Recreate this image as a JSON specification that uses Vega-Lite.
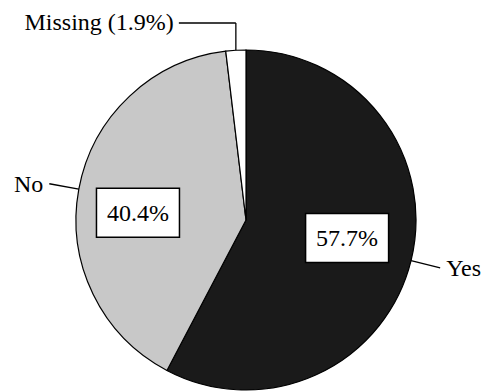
{
  "$schema": "https://vega.github.io/schema/vega-lite/v6.json",
  "width": 340,
  "height": 340,
  "autosize": {"type": "none"},
  "padding": {"left": 76, "top": 50, "right": 66, "bottom": 1},
  "background": "white",
  "config": {
    "view": {"stroke": null},
    "text": {"font": "Liberation Serif", "fontSize": 24, "color": "black"},
    "rule": {"color": "black", "strokeWidth": 1.3}
  },
  "data": {
    "values": [
      {"answer": "Yes", "percent": 57.7, "rank": 1},
      {"answer": "No", "percent": 40.4, "rank": 2},
      {"answer": "Missing", "percent": 1.9, "rank": 3}
    ]
  },
  "transform": [
    {"window": [{"op": "sum", "field": "percent", "as": "cum"}], "sort": [{"field": "rank"}], "frame": [null, 0]},
    {"calculate": "2 * PI * (datum.cum - datum.percent / 2) / 100", "as": "a"},
    {"calculate": "170 * sin(datum.a)", "as": "ex"},
    {"calculate": "170 * cos(datum.a)", "as": "ey"},
    {"calculate": "200 * sin(datum.a)", "as": "ox"},
    {"calculate": "200 * cos(datum.a)", "as": "oy"},
    {"calculate": "107 * sin(datum.a) - 2.8", "as": "bx"},
    {"calculate": "60 * cos(datum.a) - 3.7", "as": "by"},
    {"calculate": "format(datum.percent, '.1f') + '%'", "as": "pctLabel"},
    {"calculate": "datum.answer + ' (' + format(datum.percent, '.1f') + '%)'", "as": "topLabel"},
    {"calculate": "197", "as": "topY"},
    {"calculate": "datum.ex - 57", "as": "elbowX"},
    {"calculate": "datum.ex - 62", "as": "topTextX"}
  ],
  "layer": [
    {
      "mark": {"type": "arc", "radius": 170, "stroke": "black", "strokeWidth": 1.2},
      "encoding": {
        "theta": {"field": "percent", "type": "quantitative", "stack": true},
        "order": {"field": "rank", "type": "quantitative"},
        "color": {
          "field": "answer",
          "type": "nominal",
          "scale": {"domain": ["Yes", "No", "Missing"], "range": ["#1a1a1a", "#c8c8c8", "#ffffff"]},
          "legend": null
        }
      }
    },
    {
      "transform": [{"filter": "datum.answer !== 'Missing'"}],
      "mark": {"type": "rule"},
      "encoding": {
        "x": {"field": "ex", "type": "quantitative", "scale": {"domain": [-170, 170], "nice": false, "zero": false}, "axis": null},
        "y": {"field": "ey", "type": "quantitative", "scale": {"domain": [-170, 170], "nice": false, "zero": false}, "axis": null},
        "x2": {"field": "ox"},
        "y2": {"field": "oy"}
      }
    },
    {
      "transform": [{"filter": "datum.answer !== 'Missing' && datum.ox < 0"}],
      "mark": {"type": "text", "align": "right", "baseline": "middle", "dx": -6, "dy": 1},
      "encoding": {
        "x": {"field": "ox", "type": "quantitative", "scale": {"domain": [-170, 170], "nice": false, "zero": false}, "axis": null},
        "y": {"field": "oy", "type": "quantitative", "scale": {"domain": [-170, 170], "nice": false, "zero": false}, "axis": null},
        "text": {"field": "answer"}
      }
    },
    {
      "transform": [{"filter": "datum.answer !== 'Missing' && datum.ox >= 0"}],
      "mark": {"type": "text", "align": "left", "baseline": "middle", "dx": 6, "dy": 1},
      "encoding": {
        "x": {"field": "ox", "type": "quantitative", "scale": {"domain": [-170, 170], "nice": false, "zero": false}, "axis": null},
        "y": {"field": "oy", "type": "quantitative", "scale": {"domain": [-170, 170], "nice": false, "zero": false}, "axis": null},
        "text": {"field": "answer"}
      }
    },
    {
      "transform": [{"filter": "datum.answer === 'Missing'"}],
      "mark": {"type": "rule"},
      "encoding": {
        "x": {"field": "ex", "type": "quantitative", "scale": {"domain": [-170, 170], "nice": false, "zero": false}, "axis": null},
        "y": {"field": "ey", "type": "quantitative", "scale": {"domain": [-170, 170], "nice": false, "zero": false}, "axis": null},
        "y2": {"field": "topY"}
      }
    },
    {
      "transform": [{"filter": "datum.answer === 'Missing'"}],
      "mark": {"type": "rule"},
      "encoding": {
        "x": {"field": "ex", "type": "quantitative", "scale": {"domain": [-170, 170], "nice": false, "zero": false}, "axis": null},
        "x2": {"field": "elbowX"},
        "y": {"field": "topY", "type": "quantitative", "scale": {"domain": [-170, 170], "nice": false, "zero": false}, "axis": null}
      }
    },
    {
      "transform": [{"filter": "datum.answer === 'Missing'"}],
      "mark": {"type": "text", "align": "right", "baseline": "middle"},
      "encoding": {
        "x": {"field": "topTextX", "type": "quantitative", "scale": {"domain": [-170, 170], "nice": false, "zero": false}, "axis": null},
        "y": {"field": "topY", "type": "quantitative", "scale": {"domain": [-170, 170], "nice": false, "zero": false}, "axis": null},
        "text": {"field": "topLabel"}
      }
    },
    {
      "transform": [{"filter": "datum.answer !== 'Missing'"}],
      "mark": {
        "type": "point",
        "shape": "M-1,-0.59H1V0.59H-1Z",
        "size": 6889,
        "filled": true,
        "fill": "white",
        "stroke": "black",
        "strokeWidth": 1.5,
        "opacity": 1,
        "fillOpacity": 1,
        "strokeOpacity": 1
      },
      "encoding": {
        "x": {"field": "bx", "type": "quantitative", "scale": {"domain": [-170, 170], "nice": false, "zero": false}, "axis": null},
        "y": {"field": "by", "type": "quantitative", "scale": {"domain": [-170, 170], "nice": false, "zero": false}, "axis": null}
      }
    },
    {
      "transform": [{"filter": "datum.answer !== 'Missing'"}],
      "mark": {"type": "text", "align": "center", "baseline": "middle", "dy": 1},
      "encoding": {
        "x": {"field": "bx", "type": "quantitative", "scale": {"domain": [-170, 170], "nice": false, "zero": false}, "axis": null},
        "y": {"field": "by", "type": "quantitative", "scale": {"domain": [-170, 170], "nice": false, "zero": false}, "axis": null},
        "text": {"field": "pctLabel"}
      }
    }
  ]
}
